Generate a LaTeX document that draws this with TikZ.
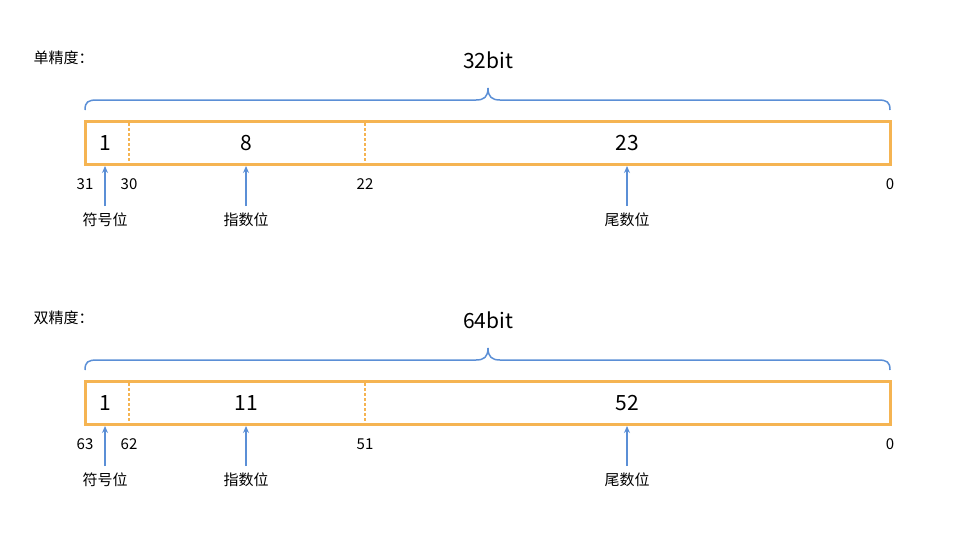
\documentclass[tikz,border=0pt]{standalone}
\usepackage{fontspec}
\usetikzlibrary{arrows.meta}
\setmainfont{Noto Sans CJK SC}
\definecolor{org}{HTML}{F5B452}
\definecolor{blu}{HTML}{5B8FD6}
\tikzset{
  fbox/.style={draw=org,line width=3pt},
  sep/.style={draw=org,dash pattern=on 3pt off 2pt,line width=1.3pt},
  brc/.style={draw=blu,line width=1.5pt},
  arr/.style={draw=blu,line width=1.5pt,-{Stealth[length=7pt,width=6pt]}},
  big/.style={font=\fontsize{21}{24}\selectfont},
  sm/.style={font=\fontsize{15}{17}\selectfont},
}
\begin{document}
\begin{tikzpicture}[x=1pt,y=-1pt]
\useasboundingbox (0,0) rectangle (955,546);
\foreach \oy/\tit/\tot/\ea/\eb/\eba/\ebb/\eca/\ecb in {0/单精度：/32bit/8/23/31/30/22/0,260/双精度：/64bit/11/52/63/62/51/0}{
\begin{scope}[yshift=-\oy pt]
\node[anchor=west,sm] (t) at (30,58) {\tit};
\node[big] (tt) at (488,60) {\tot};
\draw[brc] (85,110) .. controls (85,102) and (88,100) .. (97,100) -- (476,100) .. controls (484,100) and (488,97) .. (488,88)
  .. controls (488,97) and (492,100) .. (500,100) -- (878,100) .. controls (887,100) and (890,102) .. (890,110);
\draw[fbox] (85,121) rectangle (890,164);
\draw[sep] (129,123) -- (129,162);
\draw[sep] (365,123) -- (365,162);
\node[big] (f1) at (105,143) {1};
\node[big] (f2) at (246,143) {\ea};
\node[big] (f3) at (627,143) {\eb};
\node[sm] (b1) at (85,184) {\eba};
\node[sm] (b2) at (129,184) {\ebb};
\node[sm] (b3) at (365,184) {\eca};
\node[sm] (b4) at (890,184) {\ecb};
\node[sm] (l1) at (105,220) {符号位};
\node[sm] (l2) at (246,220) {指数位};
\node[sm] (l3) at (627,220) {尾数位};
\draw[arr] (105,206) -- (105,166);
\draw[arr] (246,206) -- (246,166);
\draw[arr] (627,206) -- (627,166);
\end{scope}}
\end{tikzpicture}
\end{document}
